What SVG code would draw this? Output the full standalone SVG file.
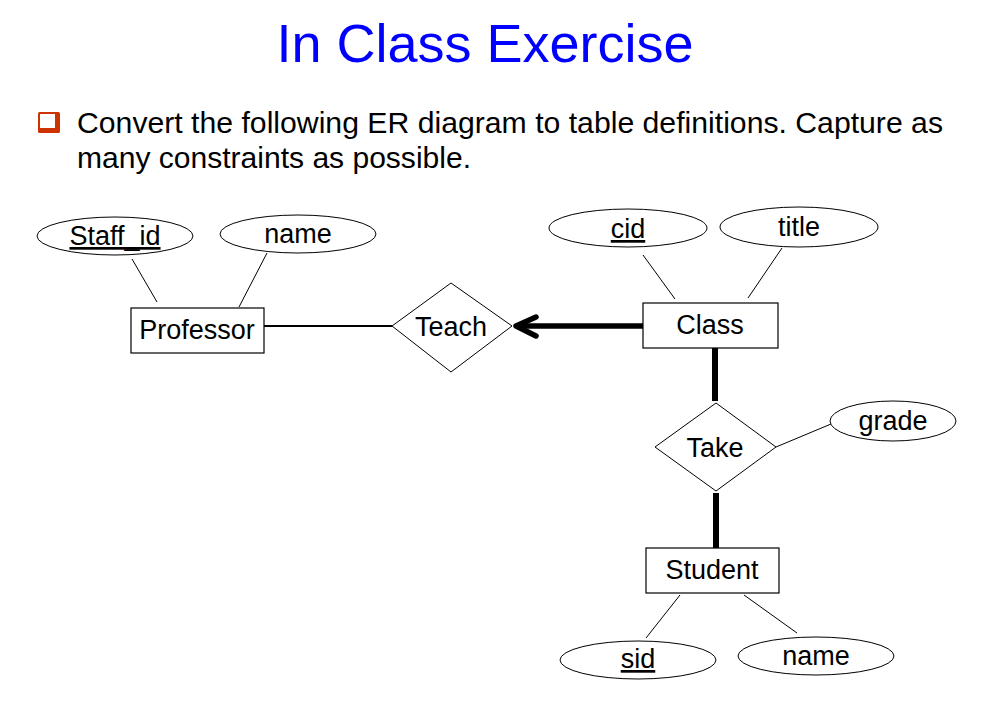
<svg xmlns="http://www.w3.org/2000/svg" width="1000" height="720" viewBox="0 0 1000 720">
<style>
text{font-family:"Liberation Sans",Arial,sans-serif;fill:#000}
.lbl{font-size:27px;text-anchor:middle}
.u{text-decoration:underline}
.ent{fill:#fff;stroke:#000;stroke-width:1.2}
.att{fill:#fff;stroke:#000;stroke-width:1}
.rel{fill:#fff;stroke:#000;stroke-width:1}
.thin{stroke:#000;stroke-width:1;fill:none}
.thick{stroke:#000;stroke-width:5.5;fill:none}
</style>
<rect width="1000" height="720" fill="#fff"/>
<text x="485" y="62" style="font-size:54px;fill:#0000ff;text-anchor:middle">In Class Exercise</text>
<g id="bullet">
<rect x="38" y="112" width="22" height="21" rx="1.5" fill="#cc3300"/>
<rect x="40" y="114" width="15" height="14" fill="#fff"/>
</g>
<text x="77" y="133" style="font-size:29px" textLength="866" lengthAdjust="spacingAndGlyphs">Convert the following ER diagram to table definitions. Capture as</text>
<text x="77" y="168" style="font-size:29px" textLength="394" lengthAdjust="spacingAndGlyphs">many constraints as possible.</text>
<g id="connectors">
<line class="thin" x1="132" y1="259" x2="157" y2="302"/>
<line class="thin" x1="267" y1="253" x2="239" y2="307"/>
<line stroke="#000" stroke-width="2" x1="264" y1="326" x2="392" y2="326"/>
<line class="thick" x1="643" y1="326" x2="516" y2="326"/>
<polyline class="thick" stroke-linecap="round" stroke-linejoin="round" points="536,317 516,326 536,336"/>
<line class="thin" x1="643" y1="255" x2="675" y2="299"/>
<line class="thin" x1="782" y1="248" x2="748" y2="298"/>
<line stroke="#000" stroke-width="6" x1="715" y1="348" x2="715" y2="401"/>
<line stroke="#000" stroke-width="6" x1="716" y1="493" x2="716" y2="548"/>
<line class="thin" x1="776" y1="447" x2="831" y2="424"/>
<line class="thin" x1="680" y1="595" x2="646" y2="638"/>
<line class="thin" x1="744" y1="595" x2="797" y2="633"/>
</g>
<g id="staff_id"><ellipse class="att" cx="115" cy="236" rx="78" ry="19"/><text class="lbl u" x="115" y="245">Staff_id</text></g>
<g id="prof_name"><ellipse class="att" cx="298" cy="234" rx="78" ry="19"/><text class="lbl" x="298" y="243">name</text></g>
<g id="professor"><rect class="ent" x="131" y="308" width="133" height="45"/><text class="lbl" x="197" y="339">Professor</text></g>
<g id="teach"><polygon class="rel" points="392,326 451,283 512,326 451,372"/><text class="lbl" x="451" y="336">Teach</text></g>
<g id="cid"><ellipse class="att" cx="628" cy="228" rx="79" ry="19"/><text class="lbl u" x="628" y="238">cid</text></g>
<g id="title"><ellipse class="att" cx="799" cy="227" rx="79" ry="20"/><text class="lbl" x="799" y="236">title</text></g>
<g id="class"><rect class="ent" x="643" y="303" width="135" height="45"/><text class="lbl" x="710" y="334">Class</text></g>
<g id="take"><polygon class="rel" points="655,447 716,403 776,447 716,491"/><text class="lbl" x="715" y="457">Take</text></g>
<g id="grade"><ellipse class="att" cx="893" cy="421" rx="63" ry="20"/><text class="lbl" x="893" y="430">grade</text></g>
<g id="student"><rect class="ent" x="646" y="548" width="133" height="45"/><text class="lbl" x="712" y="579">Student</text></g>
<g id="sid"><ellipse class="att" cx="638" cy="660" rx="78" ry="19"/><text class="lbl u" x="638" y="668">sid</text></g>
<g id="stud_name"><ellipse class="att" cx="816" cy="656" rx="78" ry="19"/><text class="lbl" x="816" y="665">name</text></g>
</svg>
